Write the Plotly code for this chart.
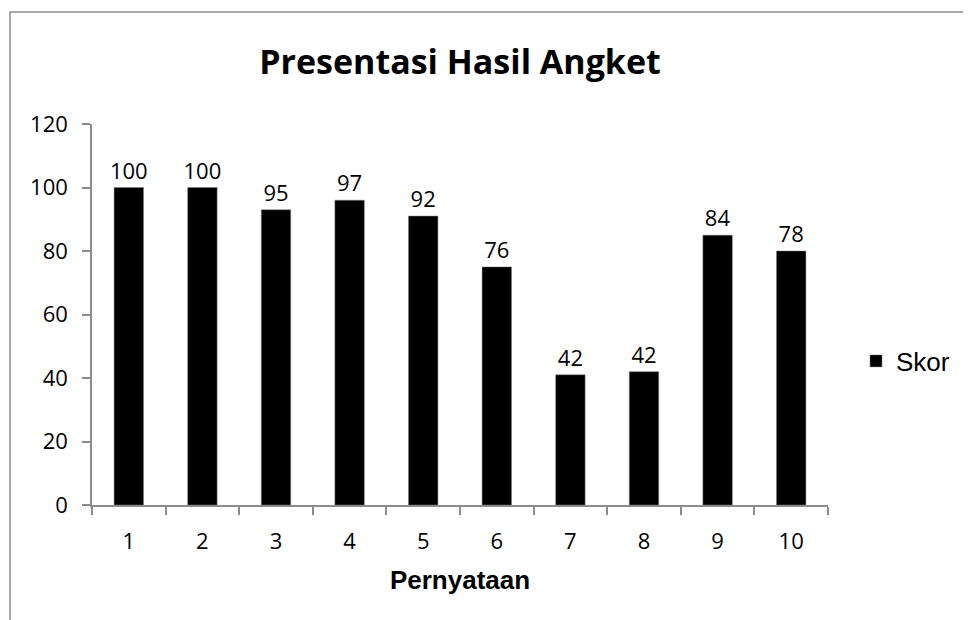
import plotly.graph_objects as go

categories = ["1", "2", "3", "4", "5", "6", "7", "8", "9", "10"]
skor_values = [100, 100, 93, 96, 91, 75, 41, 42, 85, 80]
skor_labels = ["100", "100", "95", "97", "92", "76", "42", "42", "84", "78"]
y_ticks = [0, 20, 40, 60, 80, 100, 120]

num_font = "Open Sans, Noto Sans, sans-serif"
arial = "Liberation Sans, Arial, sans-serif"
axis_grey = "#8c8c8c"

W, H = 963, 612
L, R, T, B = 84, 143, 116, 115
plot_w = W - L - R
plot_h = H - T - B

fig = go.Figure()
fig.add_trace(go.Bar(
    x=categories,
    y=skor_values,
    name="Skor",
    marker=dict(color="black", line=dict(color="#7f7f7f", width=0.5)),
    text=skor_labels,
    textposition="outside",
    constraintext="none",
    textfont=dict(family=num_font, size=22, color="black"),
    cliponaxis=False,
    hoverinfo="x+y",
))

fig.update_layout(
    width=W,
    height=H,
    paper_bgcolor="white",
    plot_bgcolor="white",
    margin=dict(l=L, r=R, t=T, b=B),
    bargap=0.6,
    title=dict(
        text="<b>Presentasi Hasil Angket</b>",
        font=dict(family=num_font, size=34, color="black"),
        x=0.5, xref="paper", xanchor="center",
        y=1 - 54 / H, yref="container", yanchor="middle",
    ),
    showlegend=True,
    legend=dict(
        x=(848 - L) / plot_w, xanchor="left", y=0.378, yanchor="middle",
        font=dict(family=arial, size=26, color="black"),
        bgcolor="rgba(0,0,0,0)",
        itemwidth=30,
    ),
    xaxis=dict(
        type="category",
        showline=True, linecolor=axis_grey, linewidth=1.5,
        ticks="outside", tickson="boundaries", ticklen=8,
        tickcolor=axis_grey, tickwidth=1.5,
        tickfont=dict(family=num_font, size=22, color="black"),
        ticklabelstandoff=16,
        showgrid=False,
        title=dict(text="<b>Pernyataan</b>", font=dict(family=arial, size=26, color="black"), standoff=17),
    ),
    yaxis=dict(
        range=[0, 120],
        tickvals=y_ticks,
        showline=True, linecolor=axis_grey, linewidth=1.5,
        ticks="outside", ticklen=8, tickcolor=axis_grey, tickwidth=1.5,
        tickfont=dict(family=num_font, size=22, color="black"),
        showgrid=False, zeroline=False,
        ticklabelstandoff=10,
    ),
    shapes=[dict(
        type="rect", xref="paper", yref="paper",
        x0=(2 - L) / plot_w, x1=1.5, y0=-1.0, y1=(T + plot_h - 4) / plot_h,
        line=dict(color="#8a8a8a", width=1.5), fillcolor="rgba(0,0,0,0)",
        layer="below",
    )],
)

fig.write_html("out.html")
